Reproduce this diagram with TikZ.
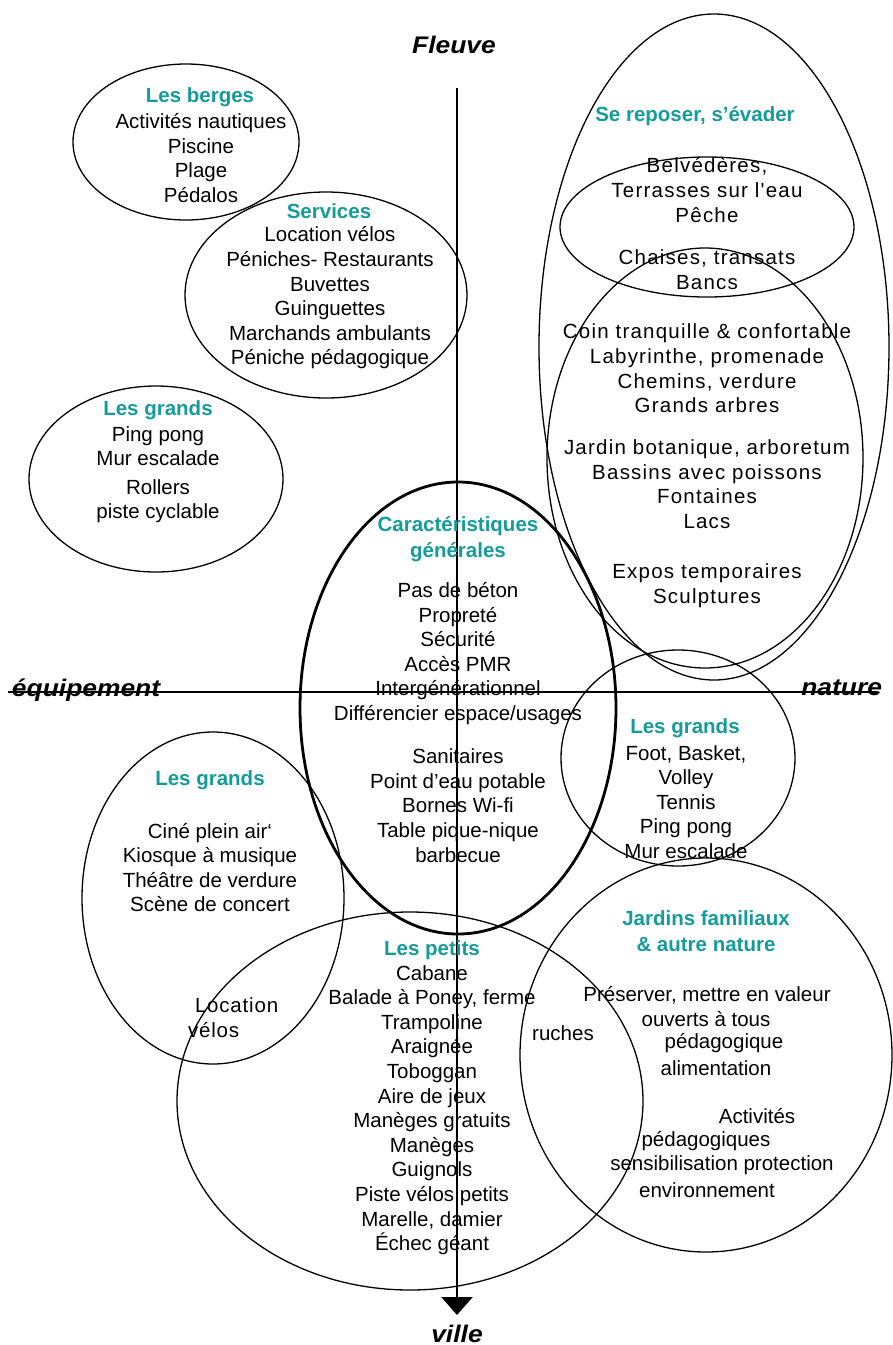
\documentclass[tikz,border=0pt]{standalone}
\usepackage{fontspec}
\setmainfont{Liberation Sans}
\newfontfamily\widef[LetterSpace=6]{Liberation Sans}
\newfontfamily\widerf[LetterSpace=4]{Liberation Sans}
\usetikzlibrary{arrows.meta}
\definecolor{teal1}{RGB}{20,155,155}
\tikzset{
  every node/.style={inner sep=0pt, outer sep=0pt, align=center},
  body/.style={font=\fontsize{20.5}{24.6}\selectfont},
  wbody/.style={font=\widef\fontsize{20.5}{24.6}\selectfont},
  mbody/.style={font=\widerf\fontsize{20.5}{24.6}\selectfont},
  ttl/.style={font=\fontsize{20.5}{25.5}\selectfont\bfseries, text=teal1},
  axl/.style={font=\fontsize{24}{26}\selectfont\bfseries\itshape},
  ring/.style={draw=black, line width=1.3pt},
  bigring/.style={draw=black, line width=2.8pt},
  axis/.style={line width=2.6pt}
}
\begin{document}
\begin{tikzpicture}[x=1pt,y=-1pt]
\useasboundingbox (0,0) rectangle (893,1345);
% ellipses
\draw[ring] (186,142) ellipse [x radius=113pt, y radius=78pt];
\draw[ring] (326,295) ellipse [x radius=141pt, y radius=103pt];
\draw[ring] (156,479) ellipse [x radius=127pt, y radius=93pt];
\draw[ring] (714,347) ellipse [x radius=175pt, y radius=333pt];
\draw[ring] (707,227) ellipse [x radius=147pt, y radius=70pt];
\draw[ring] (705,458) ellipse [x radius=158pt, y radius=210pt];
\draw[bigring] (458,708) ellipse [x radius=158pt, y radius=226pt];
\draw[ring] (678,758) ellipse [x radius=117pt, y radius=108pt];
\draw[ring] (213,898) ellipse [x radius=131pt, y radius=166pt];
\draw[ring] (410,1101) ellipse [x radius=233pt, y radius=189pt];
\draw[ring] (706,1055) ellipse [x radius=186pt, y radius=197pt];
% axes
\coordinate (vtop) at (457,88);
\coordinate (vbot) at (457,1315);
\coordinate (hl) at (8,692);
\coordinate (hr) at (878,692);
\draw[axis, -{Triangle[width=31pt,length=18pt]}] (vtop) -- (vbot);
\draw[axis] (hl) -- (hr);
\node[axl] (fleuve) at (454,45) {\scalebox{1.1}[1]{Fleuve}};
\node[axl] (ville) at (457,1334) {\scalebox{1.1}[1]{ville}};
\node[axl, anchor=west] (equip) at (12,690) {\scalebox{1.1}[1]{équipement}};
\node[axl, anchor=east] (nature) at (882,688) {\scalebox{1.1}[1]{nature}};
% Les berges
\node[ttl] (t1) at (200,97) {Les berges};
\node[body] (b1) at (201,158) {Activités nautiques\\Piscine\\Plage\\Pédalos};
% Services
\node[ttl] (t2) at (329,211) {Services};
\node[body] (b2) at (330,298) {Location vélos\\Péniches- Restaurants\\Buvettes\\Guinguettes\\Marchands ambulants\\Péniche pédagogique};
% Les grands top left
\node[ttl] (t3) at (158,410) {Les grands};
\node[body] (b3a) at (158,446) {Ping pong\\Mur escalade};
\node[body] (b3b) at (158,501) {Rollers\\piste cyclable};
% Se reposer
\node[ttl] (t4) at (695,116) {Se reposer, s’évader};
\node[wbody] (b4a) at (707,190) {Belvédères,\\Terrasses sur l'eau\\Pêche};
\node[wbody] (b4b) at (707,269.5) {Chaises, transats\\Bancs};
\node[wbody] (b4c) at (707,368.5) {Coin tranquille \& confortable\\Labyrinthe, promenade\\Chemins, verdure\\Grands arbres};
\node[wbody] (b4d) at (707,484) {Jardin botanique, arboretum\\Bassins avec poissons\\Fontaines\\Lacs};
\node[wbody] (b4e) at (707,585.5) {Expos temporaires\\Sculptures};
% Caractéristiques
\node[ttl] (t5) at (458,539) {Caractéristiques\\générales};
\node[body] (b5a) at (458,653.5) {Pas de béton\\Propreté\\Sécurité\\Accès PMR\\Intergénérationnel\\Différencier espace/usages};
\node[body] (b5b) at (458,805.5) {Sanitaires\\Point d’eau potable\\Bornes Wi-fi\\Table pique-nique\\barbecue};
% Les grands right
\node[ttl] (t6) at (685,728) {Les grands};
\node[body] (b6) at (686,802) {Foot, Basket,\\Volley\\Tennis\\Ping pong\\Mur escalade};
% Les grands bottom left
\node[ttl] (t7) at (210,780) {Les grands};
\node[body] (b7) at (210,867.5) {Ciné plein air\symbol{96}\\Kiosque à musique\\Théâtre de verdure\\Scène de concert};
\node[mbody, anchor=west] (b7a) at (195,1005) {Location};
\node[mbody, anchor=west] (b7b) at (188,1030) {vélos};
% Les petits
\node[ttl] (t8) at (432,950) {Les petits};
\node[body] (b8) at (432,1110) {Cabane\\Balade à Poney, ferme\\Trampoline\\Araignée\\Toboggan\\Aire de jeux\\Manèges gratuits\\Manèges\\Guignols\\Piste vélos petits\\Marelle, damier\\Échec géant};
\node[body] (ruches) at (563,1033) {ruches};
% Jardins familiaux
\node[ttl] (t9) at (706,931) {Jardins familiaux\\\& autre nature};
\node[body] (j1) at (707,995) {Préserver, mettre en valeur};
\node[body] (j2) at (706,1019) {ouverts à tous};
\node[body] (j3) at (724,1043) {pédagogique};
\node[body] (j4) at (716,1068) {alimentation};
\node[body] (j5) at (757,1116) {Activités};
\node[body] (j6) at (706,1141) {pédagogiques};
\node[body] (j7) at (722,1165) {sensibilisation protection};
\node[body] (j8) at (707,1190) {environnement};
\end{tikzpicture}
\end{document}
